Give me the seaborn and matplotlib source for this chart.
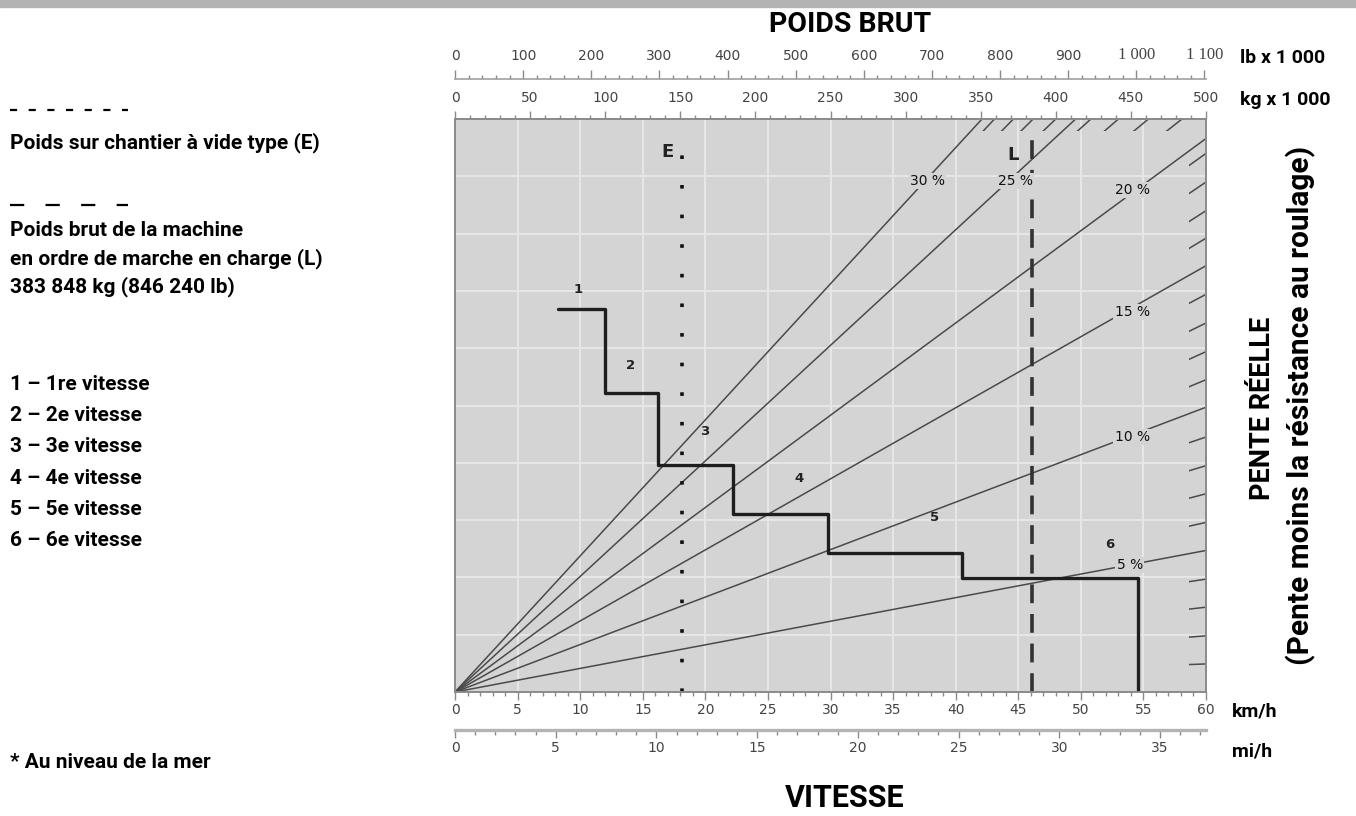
import matplotlib
matplotlib.use("Agg")
import matplotlib.pyplot as plt
from matplotlib.ticker import MultipleLocator
from matplotlib.path import Path
from matplotlib.lines import Line2D
from matplotlib.patches import Rectangle
import pandas as pd
import seaborn as sns

# ---- data ----
# gears: speed where each gear ends (km/h) and its rimpull level (chart units 0-10)
gear_names = ["1", "2", "3", "4", "5", "6"]
gear_start_kmh = 8.2
gear_end_kmh = [12.0, 16.2, 22.2, 29.8, 40.5, 54.6]
gear_rimpull = [6.69, 5.21, 3.97, 3.10, 2.42, 1.99]

# grade lines (from origin), value reached at 60 km/h
grade_pct = [5, 10, 15, 20, 25, 30]
grade_rimpull_60 = [2.47, 4.97, 7.44, 9.66, 12.1, 14.25]

# short grade marks along the top / right border
stub_pct = [1, 2, 3, 4, 6, 7, 8, 9, 11, 12, 13, 14, 16, 17, 18, 19,
            21, 22, 23, 24, 26, 27, 28, 29]
stub_rimpull_60 = [0.49, 0.98, 1.48, 1.97, 2.96, 3.46, 3.95, 4.45,
                   5.45, 5.94, 6.44, 6.94, 7.92, 8.40, 8.90, 9.40,
                   10.33, 10.83, 11.32, 11.81, 12.50, 12.99, 13.45, 13.92]

# weights (t) : empty (E) and loaded gross (L)
weight_names = ["E", "L"]
weight_t = [151.0, 383.848]

# axis tick labels
kmh_ticks = list(range(0, 61, 5))
mph_ticks = list(range(0, 36, 5))
kg_ticks = list(range(0, 501, 50))
lb_ticks = list(range(0, 1101, 100))
lb_tick_labels = ["0", "100", "200", "300", "400", "500", "600", "700",
                  "800", "900", "1 000", "1 100"]

legend_lines = ["1 – 1re vitesse", "2 – 2e vitesse", "3 – 3e vitesse",
                "4 – 4e vitesse", "5 – 5e vitesse", "6 – 6e vitesse"]

# ---- style ----
sns.set_theme(style="darkgrid", rc={
    "axes.facecolor": "#d4d4d4",
    "grid.color": "#e8e8e8",
    "grid.linewidth": 1.3,
    "axes.edgecolor": "#8a8a8a",
})
plt.rcParams["font.family"] = ["DejaVu Sans"]
COND = ["Roboto", "DejaVu Sans"]

W, H = 1356, 816
fig = plt.figure(figsize=(W / 100, H / 100), dpi=100)


def fx(x):
    return x / W


def fy(y):
    return 1 - y / H


left, right, top, bottom = 455, 1206, 119, 692
ax = fig.add_axes([fx(left), fy(bottom), (right - left) / W, (bottom - top) / H])
ax.set_xlim(0, 60)
ax.set_ylim(0, 10)

# grade lines
for g, y60 in zip(grade_pct, grade_rimpull_60):
    df = pd.DataFrame({"kmh": [0, 60], "r": [0, y60]})
    sns.lineplot(data=df, x="kmh", y="r", ax=ax, color="#4a4a4a", lw=1.1,
                 estimator=None, sort=False)

# border stubs, clipped to a thin band along top and right edges
band = Path.make_compound_path(
    Path([(0, 9.79), (60, 9.79), (60, 10), (0, 10), (0, 9.79)]),
    Path([(58.62, 0), (60, 0), (60, 10), (58.62, 10), (58.62, 0)]))
for g, y60 in zip(stub_pct, stub_rimpull_60):
    ln, = ax.plot([0, 60], [0, y60], color="#4a4a4a", lw=1.1)
    ln.set_clip_path(band, ax.transData)

# gear step curve
step_x = [gear_start_kmh] + gear_end_kmh + [gear_end_kmh[-1]]
step_y = gear_rimpull + [gear_rimpull[-1], 0]
steps = pd.DataFrame({"kmh": step_x, "r": step_y})
sns.lineplot(data=steps, x="kmh", y="r", ax=ax, color="#1e1e1e", lw=2.4,
             drawstyle="steps-post", estimator=None, sort=False)


def kg_to_kmh(w):
    return w * 60 / 500


def kmh_to_kg(v):
    return v * 500 / 60


# E and L weight lines
e_x = kg_to_kmh(weight_t[0])
l_x = kg_to_kmh(weight_t[1])
ax.plot([e_x, e_x], [0, 9.75], color="#111111", lw=2.6,
        linestyle=(0, (1, 7.2)), dash_capstyle="butt")
ax.plot([l_x, l_x], [0, 9.78], color="#333333", lw=2.6,
        linestyle=(0, (5.2, 3.0)), dash_capstyle="butt")
ax.text(e_x - 1.15, 9.42, weight_names[0], fontsize=13, fontweight="bold",
        ha="center", va="center", color="#222")
ax.text(l_x - 1.5, 9.37, weight_names[1], fontsize=13, fontweight="bold",
        ha="center", va="center", color="#222")

# grade labels
grade_lab_x = [53.9, 54.1, 54.1, 54.1, 44.8, 37.75]
grade_lab_y = [2.22, 4.45, 6.63, 8.76, 8.92, 8.92]
for g, lx, ly in zip(grade_pct, grade_lab_x, grade_lab_y):
    ax.text(lx, ly, f"{g} %", fontsize=10, ha="center", va="center",
            color="#111",
            bbox=dict(boxstyle="square,pad=0.08", fc="#d4d4d4", ec="none"))

# gear labels
gear_lab_x = [9.8, 14.0, 19.95, 27.5, 38.3, 52.3]
gear_lab_y = [7.02, 5.69, 4.54, 3.72, 3.04, 2.57]
for name, lx, ly in zip(gear_names, gear_lab_x, gear_lab_y):
    ax.text(lx, ly, name, fontsize=9.5, fontweight="bold", ha="center",
            va="center", color="#222")

# main axis ticks / grid
ax.set_xticks(kmh_ticks)
ax.xaxis.set_minor_locator(MultipleLocator(1))
ax.set_yticks(range(0, 11))
ax.set_xlabel("")
ax.set_ylabel("")
ax.grid(True, which="major")
ax.grid(False, which="minor")
ax.tick_params(axis="y", left=False, labelleft=False)
ax.tick_params(axis="x", which="major", bottom=True, direction="out",
               length=6, width=1, color="#8a8a8a", labelsize=10,
               labelcolor="#444", pad=2)
ax.tick_params(axis="x", which="minor", bottom=True, direction="out",
               length=3.2, width=1, color="#8a8a8a")
for s in ax.spines.values():
    s.set_visible(True)
    s.set_color("#8a8a8a")
    s.set_linewidth(1.4)

# top: kg x 1000
kg_ax = ax.secondary_xaxis("top", functions=(kmh_to_kg, kg_to_kmh))
kg_ax.set_xticks(kg_ticks)
kg_ax.xaxis.set_minor_locator(MultipleLocator(10))
kg_ax.tick_params(which="major", length=6, width=1, color="#8a8a8a",
                  labelsize=10, labelcolor="#444", pad=4)
kg_ax.tick_params(which="minor", length=3, width=1, color="#8a8a8a")
kg_ax.spines["top"].set_color("#8a8a8a")


# top: lb x 1000
def kmh_to_lb(v):
    return kmh_to_kg(v) * 2.20462


def lb_to_kmh(p):
    return kg_to_kmh(p / 2.20462)


lb_ax = ax.secondary_xaxis((bottom - 79) / (bottom - top),
                           functions=(kmh_to_lb, lb_to_kmh))
lb_ax.set_xticks(lb_ticks, labels=lb_tick_labels)
lb_ax.xaxis.set_minor_locator(MultipleLocator(20))
lb_ax.tick_params(which="major", length=6.5, width=1, color="#8a8a8a",
                  labelsize=10, labelcolor="#444", pad=5)
lb_ax.tick_params(which="minor", length=3, width=1, color="#8a8a8a")
lb_ax.spines["top"].set_color("#a0a0a0")
lb_ax.spines["top"].set_linewidth(1.2)
for lab in lb_ax.get_xticklabels():
    if " " in lab.get_text():
        lab.set_fontfamily("Liberation Serif")
        lab.set_fontsize(12)


# bottom: mi/h
def kmh_to_mph(v):
    return v / 1.609344


def mph_to_kmh(m):
    return m * 1.609344


mph_ax = ax.secondary_xaxis(-(730 - bottom) / (bottom - top),
                            functions=(kmh_to_mph, mph_to_kmh))
mph_ax.set_xticks(mph_ticks)
mph_ax.xaxis.set_minor_locator(MultipleLocator(1))
mph_ax.tick_params(which="major", length=6, width=1, color="#8a8a8a",
                   labelsize=10, labelcolor="#444", pad=2)
mph_ax.tick_params(which="minor", length=3.5, width=1, color="#8a8a8a")
mph_ax.spines["bottom"].set_color("#b4b4b4")
mph_ax.spines["bottom"].set_linewidth(2.4)

# ---- figure texts ----
fig.patches.append(Rectangle((0, fy(7)), 1, 7 / H, transform=fig.transFigure,
                             color="#b3b3b3", zorder=0))

bold = dict(family=COND, fontweight="bold", color="black")
fig.text(fx(850), fy(25), "POIDS BRUT", fontsize=20.5, ha="center",
         va="center", **bold)
fig.text(fx(845), fy(798), "VITESSE", fontsize=22, ha="center",
         va="center", **bold)
fig.text(fx(1240), fy(58), "lb x 1 000", fontsize=14, ha="left",
         va="center", **bold)
fig.text(fx(1240), fy(100), "kg x 1 000", fontsize=14, ha="left",
         va="center", **bold)
fig.text(fx(1232), fy(712), "km/h", fontsize=14, ha="left",
         va="center", **bold)
fig.text(fx(1232), fy(752), "mi/h", fontsize=14, ha="left",
         va="center", **bold)
fig.text(fx(1262), fy(408), "PENTE RÉELLE", fontsize=19.5, ha="center",
         va="center", rotation=90, **bold)
fig.text(fx(1301), fy(405), "(Pente moins la résistance au roulage)",
         fontsize=21.5, ha="center", va="center", rotation=90, **bold)

# left legend
fig.lines.append(Line2D([fx(10), fx(128)], [fy(110), fy(110)],
                        transform=fig.transFigure, color="black", lw=1.6,
                        linestyle=(0, (3.2, 5.2)), dash_capstyle="butt"))
fig.lines.append(Line2D([fx(10), fx(128)], [fy(205), fy(205)],
                        transform=fig.transFigure, color="black", lw=1.6,
                        linestyle=(0, (6.4, 9.6)), dash_capstyle="butt"))
fs = 15
fig.text(fx(10), fy(143), "Poids sur chantier à vide type (E)", fontsize=fs,
         ha="left", va="center", **bold)
fig.text(fx(10), fy(231), "Poids brut de la machine", fontsize=fs,
         ha="left", va="center", **bold)
fig.text(fx(10), fy(259), "en ordre de marche en charge (L)", fontsize=fs,
         ha="left", va="center", **bold)
fig.text(fx(10), fy(287), "383 848 kg (846 240 lb)", fontsize=fs,
         ha="left", va="center", **bold)
for i, line in enumerate(legend_lines):
    fig.text(fx(10), fy(384 + i * 31.4), line, fontsize=fs, ha="left",
             va="center", **bold)
fig.text(fx(10), fy(762), "* Au niveau de la mer", fontsize=fs, ha="left",
         va="center", **bold)

fig.savefig("out.png", dpi=100)
